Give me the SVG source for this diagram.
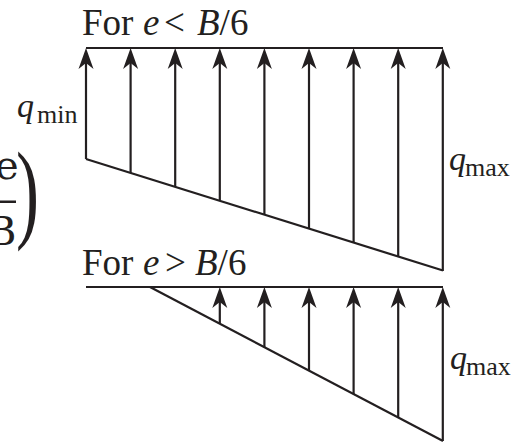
<svg xmlns="http://www.w3.org/2000/svg" width="515" height="443" viewBox="0 0 515 443">
<defs>
<style>
.ln{stroke:#231f20;stroke-width:2.2;fill:none;stroke-linecap:butt}
.hd{fill:#231f20;stroke:none}
.t{font-family:"Liberation Serif","Times New Roman",serif;fill:#231f20}
.it{font-style:italic}
.f{font-family:"DejaVu Serif","Liberation Serif",serif;fill:#231f20}
</style>
<path id="ah" class="hd" d="M0,0 L7.5,21 L0,15 L-7.5,21 Z"/>
</defs>
<rect width="515" height="443" fill="#fff"/>
<g id="formula-fragment">
<text class="f" x="-5" y="179" font-size="40">e</text>
<rect x="0" y="200.5" width="16" height="2.5" fill="#231f20"/>
<text class="f" x="-13" y="245" font-size="40">B</text>
<text class="t" font-size="60" transform="translate(16,228) scale(1.15,1.85)">)</text>
</g>
<g id="case1">
<text class="t" font-size="37" y="35"><tspan x="82">For</tspan><tspan x="143" class="it">e</tspan><tspan x="164">&lt;</tspan><tspan x="197" class="it">B</tspan><tspan>/6</tspan></text>
<text class="t" y="117"><tspan x="17" font-size="34" class="it">q</tspan><tspan x="37" y="123" font-size="26">min</tspan></text>
<text class="t" y="170"><tspan x="449" font-size="34" class="it">q</tspan><tspan x="465" y="176" font-size="26">max</tspan></text>
</g>
<g id="case2">
<text class="t" font-size="37" y="275"><tspan x="82">For</tspan><tspan x="143" class="it">e</tspan><tspan x="165">&gt;</tspan><tspan x="195" class="it">B</tspan><tspan>/6</tspan></text>
<text class="t" y="369"><tspan x="450" font-size="34" class="it">q</tspan><tspan x="466" y="375" font-size="26">max</tspan></text>
</g>
<g id="connectors">
<line class="ln" x1="86" y1="48" x2="443" y2="48"/>
<line class="ln" x1="86" y1="159" x2="443" y2="270.5"/>
<line class="ln" x1="86" y1="159" x2="86" y2="62"/>
<line class="ln" x1="130.6" y1="172.9" x2="130.6" y2="62"/>
<line class="ln" x1="175.2" y1="186.9" x2="175.2" y2="62"/>
<line class="ln" x1="219.8" y1="200.8" x2="219.8" y2="62"/>
<line class="ln" x1="264.4" y1="214.7" x2="264.4" y2="62"/>
<line class="ln" x1="309" y1="228.6" x2="309" y2="62"/>
<line class="ln" x1="353.6" y1="242.6" x2="353.6" y2="62"/>
<line class="ln" x1="398.2" y1="256.5" x2="398.2" y2="62"/>
<line class="ln" x1="442.8" y1="271" x2="442.8" y2="62"/>
<use href="#ah" x="86" y="48"/>
<use href="#ah" x="130.6" y="48"/>
<use href="#ah" x="175.2" y="48"/>
<use href="#ah" x="219.8" y="48"/>
<use href="#ah" x="264.4" y="48"/>
<use href="#ah" x="309" y="48"/>
<use href="#ah" x="353.6" y="48"/>
<use href="#ah" x="398.2" y="48"/>
<use href="#ah" x="442.8" y="48"/>
<line class="ln" x1="86" y1="287" x2="443" y2="287"/>
<line class="ln" x1="150" y1="287" x2="443" y2="441"/>
<line class="ln" x1="219.8" y1="323.7" x2="219.8" y2="301"/>
<line class="ln" x1="264.4" y1="347.1" x2="264.4" y2="301"/>
<line class="ln" x1="309" y1="370.6" x2="309" y2="301"/>
<line class="ln" x1="353.6" y1="394" x2="353.6" y2="301"/>
<line class="ln" x1="398.2" y1="417.5" x2="398.2" y2="301"/>
<line class="ln" x1="442.8" y1="441" x2="442.8" y2="301"/>
<use href="#ah" x="219.8" y="287"/>
<use href="#ah" x="264.4" y="287"/>
<use href="#ah" x="309" y="287"/>
<use href="#ah" x="353.6" y="287"/>
<use href="#ah" x="398.2" y="287"/>
<use href="#ah" x="442.8" y="287"/>
</g>
</svg>
